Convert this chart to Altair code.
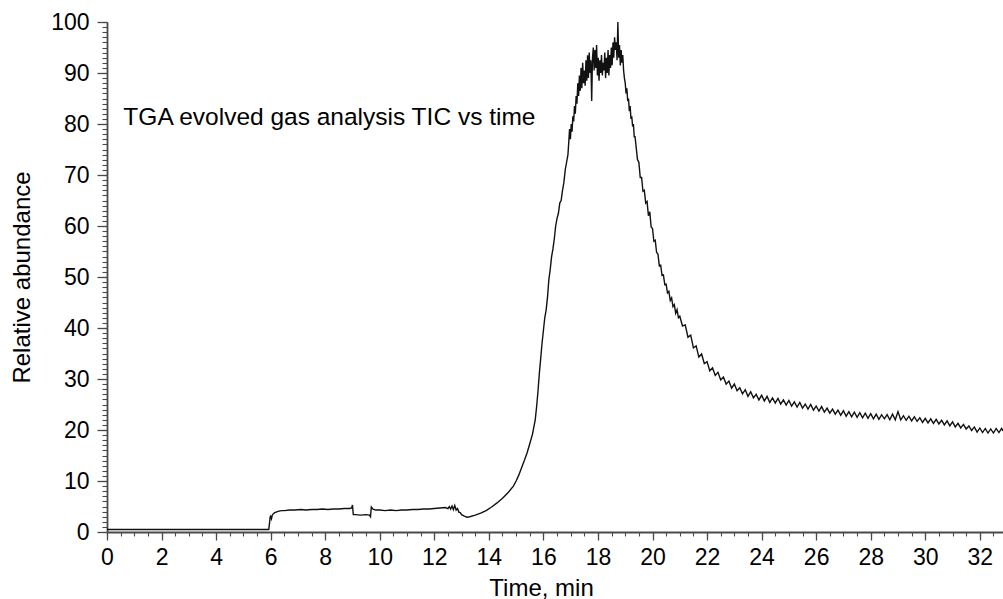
import altair as alt
import pandas as pd

# ---- data ----
time_min = [
    0, 5.93, 5.96, 5.98, 6.0, 6.03, 6.06, 6.1, 6.15, 6.2, 6.3, 6.4, 6.5, 6.7, 6.9, 7.1, 7.3, 7.5, 7.7, 7.9,
    8.1, 8.3, 8.5, 8.7, 8.9, 8.97, 9.0, 9.03, 9.1, 9.3, 9.5, 9.62, 9.66, 9.69, 9.75, 9.85, 10.0, 10.2, 10.4,
    10.6, 10.8, 11.0, 11.2, 11.4, 11.6, 11.8, 12.0, 12.2, 12.4, 12.5, 12.55, 12.6, 12.65, 12.7, 12.75, 12.8,
    12.85, 12.9, 12.95, 13.0, 13.1, 13.2, 13.3,
    13.5, 13.7, 13.9, 14.1, 14.3, 14.5, 14.7, 14.9, 15.0, 15.1, 15.2, 15.3, 15.4, 15.5, 15.6, 15.7, 15.75,
    15.8, 15.85, 15.9, 15.95, 16.0, 16.05, 16.1, 16.15, 16.2, 16.25, 16.3, 16.35, 16.4, 16.45, 16.5, 16.55,
    16.6, 16.65, 16.7, 16.75, 16.8, 16.85, 16.9,
    16.93, 16.96, 16.99, 17.02, 17.05, 17.08, 17.11, 17.14, 17.17, 17.2, 17.23, 17.26, 17.29, 17.32, 17.35,
    17.38, 17.41, 17.44, 17.47, 17.5, 17.53, 17.56, 17.59, 17.62, 17.65, 17.68, 17.71, 17.74, 17.77, 17.8,
    17.83, 17.86, 17.89, 17.92, 17.95, 17.98, 18.01, 18.04, 18.07, 18.1, 18.13, 18.16, 18.19, 18.22, 18.25,
    18.28, 18.31, 18.34, 18.37, 18.4, 18.43, 18.46, 18.49, 18.52, 18.55, 18.58, 18.61, 18.64, 18.67, 18.7,
    18.73, 18.76, 18.79, 18.82, 18.85, 18.88, 18.91, 18.94, 18.97, 19.0, 19.03, 19.06, 19.09, 19.12, 19.15,
    19.18, 19.21, 19.24, 19.27, 19.3, 19.33, 19.36,
    19.4, 19.45, 19.5, 19.55, 19.6, 19.65, 19.7, 19.75, 19.8, 19.85, 19.9, 19.95, 20.0, 20.05, 20.1, 20.15,
    20.2, 20.25, 20.3, 20.35, 20.4, 20.45, 20.5, 20.55, 20.6, 20.65, 20.7, 20.75, 20.8, 20.85, 20.9, 20.95,
    21.0, 21.1, 21.2, 21.3, 21.4, 21.5, 21.6, 21.7, 21.8, 21.9, 22.0, 22.1, 22.2, 22.3, 22.4, 22.5, 22.6,
    22.7, 22.8, 22.9, 23.0, 23.1, 23.2, 23.3, 23.4, 23.5, 23.6, 23.7, 23.8, 23.9, 24.0, 24.1, 24.2, 24.3,
    24.4, 24.5, 24.6, 24.7, 24.8, 24.9, 25.0, 25.1, 25.2, 25.3, 25.4, 25.5, 25.6, 25.7, 25.8, 25.9, 26.0,
    26.1, 26.2, 26.3, 26.4, 26.5, 26.6, 26.7, 26.8, 26.9, 27.0, 27.1, 27.2, 27.3, 27.4, 27.5, 27.6, 27.7,
    27.8, 27.9, 28.0, 28.1, 28.2, 28.3, 28.4, 28.5, 28.6, 28.7, 28.8, 28.9, 29.0, 29.1, 29.2, 29.3, 29.4,
    29.5, 29.6, 29.7, 29.8, 29.9, 30.0, 30.1, 30.2, 30.3, 30.4, 30.5, 30.6, 30.7, 30.8, 30.9, 31.0, 31.1,
    31.2, 31.3, 31.4, 31.5, 31.6, 31.7, 31.8, 31.9, 32.0, 32.1, 32.2, 32.3, 32.4, 32.5, 32.6, 32.7, 32.8,
    32.85,
]
abundance = [
    0.5, 0.5, 1.8, 2.9, 3.1, 2.6, 3.3, 3.6, 3.8, 3.9, 4.1, 4.2, 4.2, 4.3, 4.3, 4.4, 4.3, 4.4, 4.4, 4.5,
    4.4, 4.5, 4.5, 4.6, 4.6, 4.7, 5.3, 3.4, 3.4, 3.3, 3.4, 3.3, 3.0, 4.9, 4.5, 4.3, 4.3, 4.2, 4.3,
    4.2, 4.3, 4.3, 4.4, 4.4, 4.5, 4.5, 4.6, 4.7, 4.8, 4.6, 5.0, 4.5, 5.1, 4.4, 5.2, 4.3,
    4.6, 3.9, 3.8, 3.4, 3.1, 2.9, 3.0,
    3.3, 3.7, 4.2, 4.9, 5.7, 6.6, 7.7, 9.0, 10.0, 11.2, 12.6, 14.0, 15.5, 17.3, 19.2, 22.0, 24.5,
    27.5, 31.0, 34.0, 37.0, 39.5, 42.0, 43.5, 46.0, 49.5, 51.5, 54.0, 55.5, 57.5, 60.0, 61.5, 62.5,
    64.5, 65.0, 67.0, 68.5, 71.0, 72.5, 74.0,
    76.5, 79.0, 77.0, 80.0, 78.5, 81.5, 80.5, 83.5, 82.0, 85.5, 84.0, 88.0, 85.5, 89.5, 86.5,
    91.0, 87.0, 92.0, 88.0, 90.5, 87.5, 92.5, 88.5, 93.5, 89.0, 94.0, 90.0, 92.5, 84.5, 93.0,
    95.0, 90.5, 94.5, 91.0, 95.5, 89.5, 93.0, 88.5, 92.5, 90.0, 93.5, 89.5, 92.0, 90.5, 94.0,
    89.0, 93.0, 90.0, 94.5, 89.5, 93.5, 91.0, 95.0, 91.5, 96.0, 93.0, 97.0, 94.5, 96.0, 92.5,
    100.0, 93.0, 95.5, 91.5, 94.5, 92.0, 93.5, 90.5, 89.0, 88.0, 86.0, 87.0, 84.5, 85.0, 82.5,
    83.5, 81.0, 81.5, 79.5, 80.0, 77.5, 77.5,
    75.5, 73.0, 72.5, 69.5, 69.5, 66.8, 67.0, 64.5, 64.8, 62.0, 62.8, 59.8, 59.5, 57.0, 57.2, 54.8,
    54.5, 52.2, 52.3, 50.3, 50.4, 48.5, 48.6, 46.9, 47.2, 45.4, 45.9, 44.2, 44.6, 42.9, 43.6, 42.0,
    42.3, 40.4, 40.6, 38.2, 38.6, 36.1, 36.5, 34.3, 34.9, 33.0, 33.4, 31.6, 32.2, 30.7, 31.3, 29.8, 30.4,
    29.0, 29.6, 28.2, 29.0, 27.7, 28.3, 27.1, 27.9, 26.6, 27.5, 26.3, 27.0, 25.9, 26.8, 25.7, 26.6, 25.4,
    26.3, 25.3, 26.2, 25.1, 25.9, 24.9, 25.8, 24.7, 25.5, 24.5, 25.4, 24.3, 25.1, 24.1, 25.0, 23.9, 24.7,
    23.7, 24.6, 23.5, 24.3, 23.3, 24.1, 23.1, 23.9, 22.9, 23.8, 22.7, 23.6, 22.6, 23.5, 22.5, 23.4, 22.4,
    23.3, 22.3, 23.2, 22.2, 23.1, 22.1, 23.0, 22.2, 23.0, 22.0, 23.1, 22.0, 23.6, 22.0, 22.8, 21.9, 22.7,
    21.8, 22.6, 21.7, 22.4, 21.5, 22.3, 21.4, 22.2, 21.3, 22.1, 21.2, 21.9, 21.0, 21.8, 20.8, 21.6, 20.6,
    21.3, 20.4, 21.1, 20.2, 20.8, 19.9, 20.6, 19.6, 20.4, 19.5, 20.3, 19.4, 20.2, 19.4, 20.3, 19.5, 20.3,
    19.8,
]

x_major = [0, 2, 4, 6, 8, 10, 12, 14, 16, 18, 20, 22, 24, 26, 28, 30, 32]
x_minor = [i * 0.5 for i in range(0, 66)]
y_major = [0, 10, 20, 30, 40, 50, 60, 70, 80, 90, 100]
y_minor = list(range(0, 101))

note_text = ["TGA evolved gas analysis TIC vs time"]
note_time = [0.6]
note_value = [81.2]

x_domain = [0, 32.85]
y_domain = [0, 100]

df = pd.DataFrame({"time": time_min, "abund": abundance})
notes = pd.DataFrame({"t": note_time, "v": note_value, "label": note_text})

FONT = "Liberation Sans"
AX = "#4a4a4a"

x_scale = alt.Scale(domain=x_domain, nice=False, zero=False)
y_scale = alt.Scale(domain=y_domain, nice=False)

line = alt.Chart(df).mark_line(color="#111111", strokeWidth=1.4).encode(
    x=alt.X("time:Q", scale=x_scale,
            axis=alt.Axis(orient="bottom", values=x_major, title="Time, min", grid=False,
                          tickSize=8, tickWidth=1.3, tickColor=AX, domainColor=AX, domainWidth=1.8,
                          labelFont=FONT, labelFontSize=23, labelColor="#000", labelPadding=6,
                          labelFlush=False, labelOverlap=False,
                          titleFont=FONT, titleFontSize=24, titleFontWeight="normal", titleColor="#000",
                          titlePadding=7, titleX=434)),
    y=alt.Y("abund:Q", scale=y_scale,
            axis=alt.Axis(orient="left", values=y_major, title="Relative abundance", grid=False,
                          tickSize=10, tickWidth=1.3, tickColor=AX, domainColor=AX, domainWidth=1.8,
                          labelFont=FONT, labelFontSize=23, labelColor="#000", labelPadding=8,
                          labelFlush=False, labelOverlap=False,
                          titleFont=FONT, titleFontSize=24, titleFontWeight="normal", titleColor="#000",
                          titlePadding=16)),
)

minor = alt.Chart(df).mark_line(strokeOpacity=0).encode(
    x=alt.X("time:Q", scale=x_scale,
            axis=alt.Axis(orient="bottom", values=x_minor, title="", labels=False, grid=False,
                          domain=False, tickSize=4, tickWidth=1.1, tickColor=AX)),
    y=alt.Y("abund:Q", scale=y_scale,
            axis=alt.Axis(orient="left", values=y_minor, title="", labels=False, grid=False,
                          domain=False, tickSize=5, tickWidth=1.1, tickColor=AX)),
)

note = alt.Chart(notes).mark_text(align="left", baseline="middle", font=FONT, fontSize=24.5,
                                   color="#000").encode(
    x=alt.X("t:Q", scale=x_scale, axis=None),
    y=alt.Y("v:Q", scale=y_scale, axis=None),
    text="label:N",
)

chart = alt.layer(minor, line, note).resolve_axis(x="independent", y="independent").properties(
    width=896, height=510,
    autosize=alt.AutoSizeParams(type="none"),
    padding={"left": 107, "top": 22, "right": 0, "bottom": 67},
).configure(background="white").configure_view(strokeWidth=0)

chart.save("out.html", embed_options={"renderer": "svg", "actions": False})
